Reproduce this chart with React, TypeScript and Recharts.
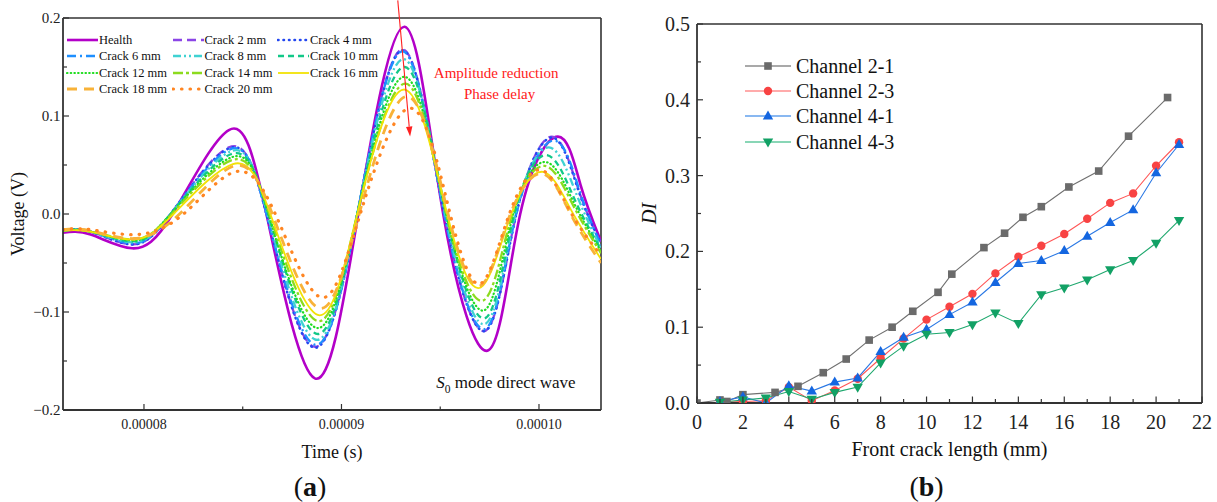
import React from 'react';
import { LineChart, Line, XAxis, YAxis, Legend, ReferenceLine, ReferenceDot } from 'recharts';

const SERIF = '"Liberation Serif", "Times New Roman", serif';
const AXIS = '#333';

// ---------------- Panel (a): time in microseconds, voltage in V ----------------
const waveNames = ['Health', 'Crack 2 mm', 'Crack 4 mm', 'Crack 6 mm', 'Crack 8 mm', 'Crack 10 mm',
  'Crack 12 mm', 'Crack 14 mm', 'Crack 16 mm', 'Crack 18 mm', 'Crack 20 mm'];

const healthWave = [[75.9, -0.019], [77.3, -0.021], [79.4, -0.035], [81.45, 0], [84.3, 0.0857], [86.2, 0], [88.65, -0.1677], [90.85, 0], [93.2, 0.191], [95.15, 0], [97.45, -0.139], [99.05, 0], [100.96, 0.079], [102.1, 0.03], [103.14, -0.028]];
const crack2Wave = [[75.9, -0.017], [77.3, -0.018], [79.4, -0.031], [81.35, 0], [84.3, 0.068], [86.2, 0], [88.55, -0.135], [90.8, 0], [93.1, 0.168], [95.2, 0], [97.3, -0.119], [98.85, 0], [100.65, 0.079], [102.0, 0.025], [103.14, -0.03]];
const crack4Wave = [[75.9, -0.017], [77.3, -0.018], [79.4, -0.031], [81.35, 0], [84.3, 0.067], [86.2, 0], [88.55, -0.136], [90.8, 0], [93.1, 0.167], [95.2, 0], [97.3, -0.119], [98.85, 0], [100.65, 0.078], [102.0, 0.024], [103.14, -0.03]];
const crack6Wave = [[75.9, -0.017], [77.3, -0.018], [79.45, -0.03], [81.35, 0], [84.35, 0.066], [86.2, 0], [88.6, -0.133], [90.8, 0], [93.1, 0.166], [95.2, 0], [97.3, -0.117], [98.85, 0], [100.75, 0.075], [102.05, 0.024], [103.14, -0.032]];
const crack8Wave = [[75.9, -0.017], [77.3, -0.018], [79.45, -0.029], [81.35, 0], [84.4, 0.064], [86.25, 0], [88.65, -0.128], [90.8, 0], [93.15, 0.158], [95.25, 0], [97.3, -0.112], [98.8, 0], [100.5, 0.068], [101.9, 0.02], [103.14, -0.035]];
const crack10Wave = [[75.9, -0.017], [77.3, -0.018], [79.45, -0.028], [81.35, 0], [84.4, 0.061], [86.3, 0], [88.7, -0.122], [90.8, 0], [93.2, 0.15], [95.3, 0], [97.3, -0.106], [98.75, 0], [100.4, 0.06], [101.8, 0.015], [103.14, -0.036]];
const crack12Wave = [[75.9, -0.017], [77.3, -0.018], [79.5, -0.027], [81.35, 0], [84.45, 0.058], [86.3, 0], [88.7, -0.116], [90.8, 0], [93.2, 0.14], [95.3, 0], [97.25, -0.098], [98.7, 0], [100.35, 0.053], [101.75, 0.012], [103.14, -0.038]];
const crack14Wave = [[75.9, -0.017], [77.3, -0.018], [79.5, -0.026], [81.4, 0], [84.45, 0.055], [86.35, 0], [88.75, -0.109], [90.8, 0], [93.25, 0.133], [95.3, 0], [97.2, -0.088], [98.65, 0], [100.3, 0.049], [101.7, 0.01], [103.14, -0.04]];
const crack16Wave = [[75.9, -0.017], [77.3, -0.018], [79.5, -0.026], [81.5, 0], [84.5, 0.051], [86.4, 0], [88.8, -0.103], [90.8, 0], [93.2, 0.127], [95.35, 0], [97.05, -0.075], [98.6, 0], [100.2, 0.043], [101.6, 0.005], [103.14, -0.046]];
const crack18Wave = [[75.9, -0.016], [77.3, -0.017], [79.5, -0.025], [81.8, 0], [84.55, 0.049], [86.5, 0], [88.85, -0.096], [90.9, 0], [93.35, 0.12], [95.4, 0], [97.05, -0.073], [98.55, 0], [100.2, 0.041], [101.6, 0.0], [103.14, -0.05]];
const crack20Wave = [[75.9, -0.016], [77.3, -0.016], [79.6, -0.021], [82.0, 0], [84.6, 0.043], [86.65, 0], [88.95, -0.085], [90.95, 0], [93.5, 0.108], [95.5, 0], [97.05, -0.071], [98.5, 0], [100.1, 0.045], [101.6, 0.002], [103.14, -0.042]];

const waveData = [healthWave, crack2Wave, crack4Wave, crack6Wave, crack8Wave, crack10Wave,
  crack12Wave, crack14Wave, crack16Wave, crack18Wave, crack20Wave];

const timeDomain = [75.9, 103.14];
const voltDomain = [-0.2, 0.2];
const timeTicks = [80, 85, 90, 95, 100];
const timeMajor = [80, 90, 100];
const voltTicks = [-0.2, -0.15, -0.1, -0.05, 0, 0.05, 0.1, 0.15, 0.2];

const waveStyles = [
  { color: '#B300C8', width: 2.6, dash: undefined, cap: 'butt' },
  { color: '#8B45E6', width: 2.3, dash: '9 5', cap: 'butt' },
  { color: '#2347F0', width: 2.6, dash: '0.5 5', cap: 'round' },
  { color: '#1E8FFF', width: 2.3, dash: '9 4 2 4', cap: 'butt' },
  { color: '#3FD2D2', width: 2.3, dash: '8 3 2 3 2 3', cap: 'butt' },
  { color: '#12C888', width: 2.3, dash: '6 4', cap: 'butt' },
  { color: '#20DD20', width: 2.2, dash: '0.5 3.2', cap: 'round' },
  { color: '#8CDB1E', width: 2.3, dash: '10 3 3 3', cap: 'butt' },
  { color: '#F2E205', width: 1.8, dash: undefined, cap: 'butt' },
  { color: '#F8B238', width: 2.8, dash: '10 7', cap: 'butt' },
  { color: '#FF8522', width: 3.2, dash: '0.5 8', cap: 'round' },
];

// ---------------- Panel (b) ----------------
const ch21Length = [0, 1, 1.3, 2, 3.4, 4.4, 5.5, 6.5, 7.5, 8.5, 9.4, 10.5, 11.1, 12.5, 13.4, 14.2, 15.0, 16.2, 17.5, 18.8, 20.5];
const ch21DI = [0, 0.004, 0.002, 0.011, 0.014, 0.022, 0.04, 0.058, 0.083, 0.1, 0.121, 0.146, 0.17, 0.205, 0.224, 0.245, 0.259, 0.285, 0.306, 0.352, 0.403];
const crackLength = [1, 2, 3, 4, 5, 6, 7, 8, 9, 10, 11, 12, 13, 14, 15, 16, 17, 18, 19, 20, 21];
const ch23DI = [0.001, 0.002, 0.003, 0.021, 0.003, 0.0165, 0.032, 0.059, 0.085, 0.11, 0.127, 0.144, 0.171, 0.193, 0.2075, 0.223, 0.243, 0.264, 0.2765, 0.313, 0.344];
const ch41DI = [0.002, 0.008, 0.0, 0.0227, 0.0157, 0.0275, 0.033, 0.0677, 0.0865, 0.097, 0.1166, 0.133, 0.159, 0.184, 0.188, 0.201, 0.22, 0.238, 0.2547, 0.3035, 0.341];
const ch43DI = [0.001, 0.004, 0.0066, 0.0152, 0.005, 0.014, 0.021, 0.053, 0.075, 0.0908, 0.093, 0.1035, 0.119, 0.105, 0.143, 0.152, 0.1625, 0.176, 0.188, 0.211, 0.241];

const channelNames = ['Channel 2-1', 'Channel 2-3', 'Channel 4-1', 'Channel 4-3'];
const lenDomain = [0, 22];
const diDomain = [0, 0.5];
const lenTicks = [0, 1, 2, 3, 4, 5, 6, 7, 8, 9, 10, 11, 12, 13, 14, 15, 16, 17, 18, 19, 20, 21, 22];
const diTicks = [0, 0.05, 0.1, 0.15, 0.2, 0.25, 0.3, 0.35, 0.4, 0.45, 0.5];

const chStyles = [
  { line: '#707070', marker: '#6B6B6B', legendLine: '#8C8C8C', shape: 'square' },
  { line: '#FF5555', marker: '#F84343', legendLine: '#FF8F8F', shape: 'circle' },
  { line: '#2A78E4', marker: '#1466E0', legendLine: '#62A0EC', shape: 'up' },
  { line: '#1FA86E', marker: '#12A165', legendLine: '#62C89E', shape: 'down' },
];

// ---------------- helpers ----------------
const pairsToPoints = (arr: number[][]) => arr.map(([t, v]) => ({ t, v }));
const zipPoints = (xs: number[], ys: number[]) => xs.map((x, i) => ({ x, y: ys[i] }));
const isTenth = (v: number) => Math.abs(v * 10 - Math.round(v * 10)) < 1e-6;
const fmtV = (v: number) => (v < -1e-9 ? '\u2212' : '') + Math.abs(v).toFixed(1);

const Marker = ({ shape, cx, cy, color }: any) => {
  if (cx == null || cy == null) return null;
  if (shape === 'square') return <rect x={cx - 3.8} y={cy - 3.8} width={7.6} height={7.6} fill={color} />;
  if (shape === 'circle') return <circle cx={cx} cy={cy} r={4.2} fill={color} />;
  if (shape === 'up') return <polygon points={`${cx},${cy - 5.6} ${cx - 5.2},${cy + 3.4} ${cx + 5.2},${cy + 3.4}`} fill={color} />;
  return <polygon points={`${cx},${cy + 5.6} ${cx - 5.2},${cy - 3.4} ${cx + 5.2},${cy - 3.4}`} fill={color} />;
};

// ---- ticks panel (a)
const XTickA = (props: any) => {
  const { x, y, payload } = props;
  const major = timeMajor.includes(payload.value);
  return (
    <g>
      <line x1={x} x2={x} y1={y} y2={y - (major ? 6 : 3.5)} stroke={AXIS} strokeWidth={1.2} />
      {major && (
        <text x={x} y={y + 18.6} textAnchor="middle" fontFamily={SERIF} fontSize={14} fill="#222">
          {(payload.value / 1e6).toFixed(5)}
        </text>
      )}
    </g>
  );
};
const YTickA = (props: any) => {
  const { x, y, payload } = props;
  const major = isTenth(payload.value);
  return (
    <g>
      <line x1={x} x2={x + (major ? 6 : 4)} y1={y} y2={y} stroke={AXIS} strokeWidth={1.2} />
      {major && (
        <text x={x - 2.5} y={y} dy="0.35em" textAnchor="end" fontFamily={SERIF} fontSize={15} fill="#222">
          {fmtV(payload.value)}
        </text>
      )}
    </g>
  );
};
// ---- ticks panel (b)
const XTickB = (props: any) => {
  const { x, y, payload } = props;
  const major = payload.value % 2 === 0;
  return (
    <g>
      <line x1={x} x2={x} y1={y} y2={y - (major ? 6.5 : 4)} stroke={AXIS} strokeWidth={1.2} />
      {major && (
        <text x={x} y={y + 26} textAnchor="middle" fontFamily={SERIF} fontSize={20} fill="#222">
          {payload.value}
        </text>
      )}
    </g>
  );
};
const YTickB = (props: any) => {
  const { x, y, payload } = props;
  const major = isTenth(payload.value);
  return (
    <g>
      <line x1={x} x2={x + (major ? 6 : 4)} y1={y} y2={y} stroke={AXIS} strokeWidth={1.2} />
      {major && (
        <text x={x - 7} y={y} dy="0.35em" textAnchor="end" fontFamily={SERIF} fontSize={20} fill="#222">
          {payload.value.toFixed(1)}
        </text>
      )}
    </g>
  );
};

// ---- legends
const LegendA = () => (
  <div style={{ display: 'grid', gridTemplateColumns: 'repeat(3, 105.5px)', fontFamily: SERIF, fontSize: 12.5, color: '#111' }}>
    {waveNames.map((n, i) => {
      const s = waveStyles[i];
      return (
        <div key={n} style={{ display: 'flex', alignItems: 'center', height: 16.3, whiteSpace: 'nowrap' }}>
          <svg width={33} height={8} style={{ display: 'block', flex: 'none' }}>
            <line x1={1} x2={32} y1={4} y2={4} stroke={s.color} strokeWidth={s.width} strokeDasharray={s.dash} strokeLinecap={s.cap as any} />
          </svg>
          <span style={{ lineHeight: '16px' }}>{n}</span>
        </div>
      );
    })}
  </div>
);

const LegendB = () => (
  <div style={{ fontFamily: SERIF, fontSize: 20, color: '#111' }}>
    {channelNames.map((n, i) => {
      const s = chStyles[i];
      return (
        <div key={n} style={{ display: 'flex', alignItems: 'center', height: 25.2, whiteSpace: 'nowrap' }}>
          <svg width={47} height={14} style={{ display: 'block', flex: 'none' }}>
            <line x1={0} x2={46} y1={7} y2={7} stroke={s.legendLine} strokeWidth={1.6} />
            <Marker shape={s.shape} cx={23} cy={7} color={s.marker} />
          </svg>
          <span style={{ marginLeft: 4, lineHeight: '22px' }}>{n}</span>
        </div>
      );
    })}
  </div>
);

// ---- annotations panel (a)
const ArrowShape = (props: any) => {
  const { x1, y1, x2, y2 } = props;
  if ([x1, y1, x2, y2].some((v) => v == null)) return null;
  const ang = Math.atan2(y2 - y1, x2 - x1);
  const L = 10, W = 3.2;
  const bx = x2 - L * Math.cos(ang), by = y2 - L * Math.sin(ang);
  const px = -Math.sin(ang) * W, py = Math.cos(ang) * W;
  return (
    <g>
      <line x1={x1} y1={y1} x2={bx} y2={by} stroke="#FF2020" strokeWidth={1.1} />
      <polygon points={`${x2},${y2} ${bx + px},${by + py} ${bx - px},${by - py}`} fill="#FF2020" />
    </g>
  );
};
const AnnotText = (props: any) => {
  const { cx, cy } = props;
  if (cx == null) return null;
  return (
    <g fontFamily={SERIF} fontSize={15} fill="#FF2020">
      <text x={cx} y={cy} textAnchor="middle">Amplitude reduction</text>
      <text x={cx + 3.5} y={cy + 21} textAnchor="middle">Phase delay</text>
    </g>
  );
};
const ModeText = (props: any) => {
  const { cx, cy } = props;
  if (cx == null) return null;
  return (
    <text x={cx} y={cy} fontFamily={SERIF} fontSize={17} fill="#111">
      <tspan fontStyle="italic">S</tspan>
      <tspan fontSize={11.5} dy={4.5}>0</tspan>
      <tspan dy={-4.5}> mode direct wave</tspan>
    </text>
  );
};

const Caption = ({ x, y, letter }: any) => (
  <text x={x} y={y} textAnchor="middle" fontSize={28} fill="#111">
    <tspan fontFamily={SERIF}>(</tspan>
    <tspan fontFamily={SERIF} fontWeight="bold">{letter}</tspan>
    <tspan fontFamily={SERIF}>)</tspan>
  </text>
);

const ChartA = () => (
  <LineChart width={620} height={502} margin={{ top: 18, right: 19, bottom: 0, left: 0 }}>
    <XAxis
      type="number" dataKey="t" domain={timeDomain} ticks={timeTicks} allowDataOverflow height={92}
      tickSize={0} tickMargin={0} tickLine={false} tick={<XTickA />} interval={0}
      axisLine={{ stroke: AXIS, strokeWidth: 1.8 }}
      label={(p: any) => {
        const vb = p.viewBox;
        return (
          <g>
            <text x={vb.x + vb.width / 2} y={vb.y + 47.5} textAnchor="middle" fontFamily={SERIF} fontSize={18} fill="#111">Time (s)</text>
            <Caption x={310} y={496} letter="a" />
          </g>
        );
      }}
    />
    <YAxis
      type="number" domain={voltDomain} ticks={voltTicks} allowDataOverflow width={63}
      tickSize={0} tickMargin={0} tickLine={false} tick={<YTickA />} interval={0}
      axisLine={{ stroke: AXIS, strokeWidth: 1.8 }}
      label={(p: any) => {
        const vb = p.viewBox;
        const cx = 18, cy = vb.y + vb.height / 2;
        return (
          <text x={cx} y={cy} dy="0.35em" textAnchor="middle" transform={`rotate(-90, ${cx}, ${cy})`} fontFamily={SERIF} fontSize={18} fill="#111">Voltage (V)</text>
        );
      }}
    />
    <ReferenceLine y={voltDomain[1]} stroke={AXIS} strokeWidth={1.6} ifOverflow="visible" />
    <ReferenceLine x={timeDomain[1]} stroke={AXIS} strokeWidth={1.6} ifOverflow="visible" />
    {waveData.map((d, i) => (
      <Line
        key={waveNames[i]} name={waveNames[i]} data={pairsToPoints(d)} dataKey="v" type="natural"
        stroke={waveStyles[i].color} strokeWidth={waveStyles[i].width} strokeDasharray={waveStyles[i].dash}
        strokeLinecap={waveStyles[i].cap as any} dot={false} activeDot={false} isAnimationActive={false}
      />
    ))}
    <ReferenceLine segment={[{ x: 92.85, y: 0.218 }, { x: 93.475, y: 0.079 }]} ifOverflow="visible" shape={<ArrowShape />} />
    <ReferenceDot x={97.83} y={0.1389} ifOverflow="visible" shape={<AnnotText />} />
    <ReferenceDot x={94.8} y={-0.1776} ifOverflow="visible" shape={<ModeText />} />
    <Legend layout="vertical" align="center" verticalAlign="middle" content={<LegendA />}
      wrapperStyle={{ left: 66, top: 32, width: 330 }} />
  </LineChart>
);

const ChartB = () => (
  <LineChart width={597} height={502} margin={{ top: 24, right: 15, bottom: 0, left: 0 }}>
    <XAxis
      type="number" dataKey="x" domain={lenDomain} ticks={lenTicks} allowDataOverflow height={99}
      tickSize={0} tickMargin={0} tickLine={false} tick={<XTickB />} interval={0}
      axisLine={{ stroke: AXIS, strokeWidth: 1.8 }}
      label={(p: any) => {
        const vb = p.viewBox;
        return (
          <g>
            <text x={vb.x + vb.width / 2} y={vb.y + 53} textAnchor="middle" fontFamily={SERIF} fontSize={20} fill="#111">Front crack length (mm)</text>
            <Caption x={306.5} y={496} letter="b" />
          </g>
        );
      }}
    />
    <YAxis
      type="number" dataKey="y" domain={diDomain} ticks={diTicks} allowDataOverflow width={77}
      tickSize={0} tickMargin={0} tickLine={false} tick={<YTickB />} interval={0}
      axisLine={{ stroke: AXIS, strokeWidth: 1.8 }}
      label={(p: any) => {
        const vb = p.viewBox;
        const cx = 29, cy = vb.y + vb.height / 2;
        return (
          <text x={cx} y={cy} dy="0.35em" textAnchor="middle" transform={`rotate(-90, ${cx}, ${cy})`} fontFamily={SERIF} fontStyle="italic" fontSize={20} fill="#111">DI</text>
        );
      }}
    />
    <ReferenceLine y={diDomain[1]} stroke={AXIS} strokeWidth={1.6} ifOverflow="visible" />
    <ReferenceLine x={lenDomain[1]} stroke={AXIS} strokeWidth={1.6} ifOverflow="visible" />
    {[zipPoints(ch21Length, ch21DI), zipPoints(crackLength, ch23DI), zipPoints(crackLength, ch41DI), zipPoints(crackLength, ch43DI)].map((d, i) => {
      const s = chStyles[i];
      return (
        <Line
          key={channelNames[i]} name={channelNames[i]} data={d} dataKey="y" type="linear"
          stroke={s.line} strokeWidth={1.1} isAnimationActive={false} activeDot={false}
          dot={(p: any) => <Marker key={`m${i}-${p.index}`} shape={s.shape} cx={p.cx} cy={p.cy} color={s.marker} />}
        />
      );
    })}
    <Legend layout="vertical" align="center" verticalAlign="middle" content={<LegendB />}
      wrapperStyle={{ left: 125, top: 53.4, width: 200 }} />
  </LineChart>
);

export default function App() {
  return (
    <div style={{ position: 'absolute', left: 0, top: 0, width: 1217, height: 502, background: '#fff', overflow: 'hidden' }}>
      <div style={{ position: 'absolute', left: 0, top: 0 }}>
        <ChartA />
      </div>
      <div style={{ position: 'absolute', left: 620, top: 0 }}>
        <ChartB />
      </div>
    </div>
  );
}
